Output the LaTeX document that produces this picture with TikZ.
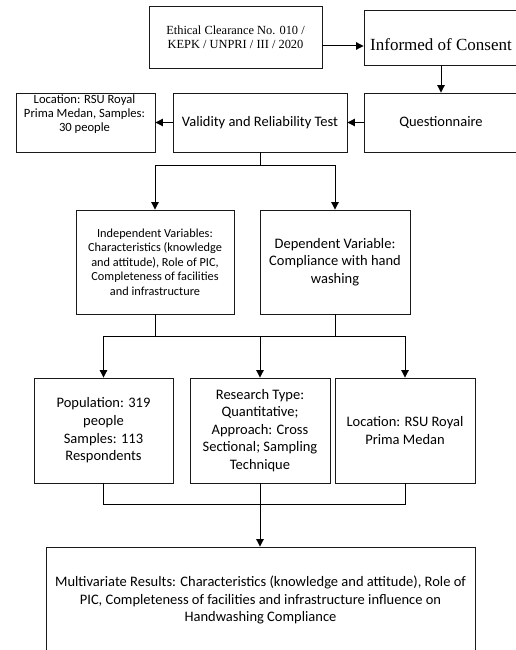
\documentclass[tikz,border=0pt]{standalone}
\usepackage{fontspec}
\setmainfont{Carlito}
\newfontfamily\timesfont{Liberation Serif}
\usetikzlibrary{arrows.meta}
\tikzset{
  box/.style={draw=black!90, line width=0.9pt, rectangle, align=center, inner sep=0pt},
  conn/.style={draw=black, line width=1pt},
  arr/.style={conn, -{Triangle[width=7.5pt,length=7.5pt]}},
  fa/.style={font=\fontsize{14.5}{17.6}\selectfont},
  fb/.style={font=\fontsize{12.3}{14.6}\selectfont},
  fc/.style={font=\fontsize{12.6}{14}\selectfont},
}
\begin{document}
\begin{tikzpicture}[x=1pt,y=-1pt]
\useasboundingbox (0,0) rectangle (516,650);
\clip (0,0) rectangle (516,650);
% top row
\node[box, minimum width=173, minimum height=62, font=\timesfont\fontsize{12.4}{13.5}\selectfont] (eth) at (235.5,37.5) {Ethical Clearance No. 010 /\\KEPK / UNPRI / III / 2020};
\node[box, minimum width=154, minimum height=55] (inf) at (441,37.5) {};
\node[font=\timesfont\fontsize{17}{20}\selectfont] (inft) at (441,45) {Informed of Consent};
% second row
\node[box, fa, minimum width=154, minimum height=59] (que) at (441,122.5) {Questionnaire};
\node[box, fa, minimum width=174, minimum height=59] (val) at (260,122.5) {Validity and Reliability Test};
\node[box, minimum width=139, minimum height=59] (loc) at (85.5,122.5) {};
\node[fc, align=center] (loct) at (84.5,114.5) {Location: RSU Royal\\Prima Medan, Samples:\\30 people};
% variables
\node[box, fb, minimum width=158, minimum height=104] (ind) at (155,262) {Independent Variables:\\Characteristics (knowledge\\and attitude), Role of PIC,\\Completeness of facilities\\and infrastructure};
\node[box, fa, minimum width=150, minimum height=104] (dep) at (335,262) {Dependent Variable:\\Compliance with hand\\washing};
% third row
\node[box, fa, minimum width=139, minimum height=105] (pop) at (103.5,430.5) {Population: 319\\people\\Samples: 113\\Respondents};
\node[box, fa, minimum width=140, minimum height=105] (res) at (260,430.5) {Research Type:\\Quantitative;\\Approach: Cross\\Sectional; Sampling\\Technique};
\node[box, fa, minimum width=140, minimum height=105] (loc2) at (405,430.5) {Location: RSU Royal\\Prima Medan};
% result
\node[box, fa, minimum width=429, minimum height=106] (fin) at (260.5,600) {Multivariate Results: Characteristics (knowledge and attitude), Role of\\PIC, Completeness of facilities and infrastructure influence on\\Handwashing Compliance};
% junctions
\coordinate (j1) at (260,165);
\coordinate (j2) at (260,336);
\coordinate (j3) at (260,504);
% connectors
\draw[arr] ([yshift=-8.5pt]eth.east) -- ([yshift=-8.5pt]inf.west);
\draw[arr] (inf.south) -- (que.north);
\draw[arr] (que.west) -- (val.east);
\draw[arr] (val.west) -- (loc.east);
\draw[conn] (val.south) -- (j1);
\draw[arr] (j1) -| (ind.north);
\draw[arr] (j1) -| (dep.north);
\draw[conn] (ind.south) |- (j2);
\draw[conn] (dep.south) |- (j2);
\draw[arr] (j2) -| (pop.north);
\draw[arr] (j2) -- (res.north);
\draw[arr] (j2) -| (loc2.north);
\draw[conn] (pop.south) |- (j3);
\draw[conn] (res.south) -- (j3);
\draw[conn] (loc2.south) |- (j3);
\draw[arr] (j3) -- (j3 |- fin.north);
\end{tikzpicture}
\end{document}
